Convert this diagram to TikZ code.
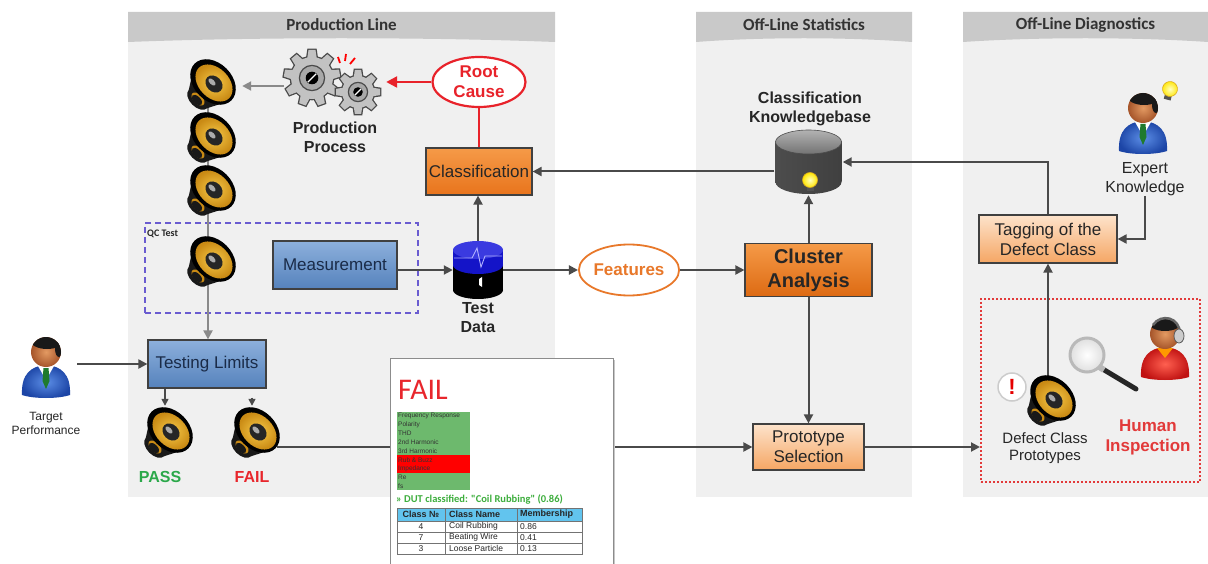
\documentclass[tikz,border=0pt]{standalone}
\usepackage{fontspec}
\setmainfont{Liberation Sans}
\newfontfamily\carlito{Carlito}
\usetikzlibrary{arrows.meta,shapes.geometric,calc}

\definecolor{connc}{HTML}{4A4A4A}
\definecolor{lightconn}{HTML}{8A8A8A}
\definecolor{panelbg}{HTML}{F0F0F0}
\definecolor{panelhd}{HTML}{C9C9C9}
\definecolor{blueT}{HTML}{8DB0DC}
\definecolor{blueB}{HTML}{5582BC}
\definecolor{blueTxt}{HTML}{1A2B48}
\definecolor{oraT}{HTML}{F59A48}
\definecolor{oraB}{HTML}{E8741C}
\definecolor{oraD}{HTML}{DD6A12}
\definecolor{lorT}{HTML}{FDE3CB}
\definecolor{lorB}{HTML}{F5A664}
\definecolor{boxedge}{HTML}{404040}
\definecolor{rcred}{HTML}{E8222A}
\definecolor{featora}{HTML}{E8782A}
\definecolor{passgreen}{HTML}{2BA84A}
\definecolor{failred}{HTML}{E8262C}
\definecolor{qcblue}{HTML}{6A5CD0}
\definecolor{inspred}{HTML}{E23A3A}
\definecolor{listgreen}{HTML}{6DB96D}
\definecolor{dutgreen}{HTML}{3DAE3D}
\definecolor{tblhead}{HTML}{62C4EE}
\definecolor{spkY}{HTML}{F7C948}
\definecolor{spkO}{HTML}{C98A14}
\definecolor{gearedge}{HTML}{4A4A4A}
\definecolor{gearface}{HTML}{C2C2C2}
\definecolor{gearin}{HTML}{A8A8A8}
\definecolor{headin}{HTML}{E39A62}
\definecolor{headout}{HTML}{A6552A}
\definecolor{suitin}{HTML}{5C8EE6}
\definecolor{suitout}{HTML}{1C45A6}
\definecolor{tiegreen}{HTML}{1F7A2E}
\definecolor{shirtin}{HTML}{FF6050}
\definecolor{shirtout}{HTML}{C01212}
\definecolor{tdblue}{HTML}{1414C8}
\definecolor{tdtop}{HTML}{3A3AE0}

\newcommand\fsz[2]{\fontsize{#1}{#2}\selectfont}

\tikzset{
  arrowline/.style={draw=connc, line width=2pt, -{Triangle[length=9pt,width=9pt]}},
  plainline/.style={draw=connc, line width=2pt},
  grayarrow/.style={draw=lightconn, line width=2pt, -{Triangle[length=9pt,width=9pt]}},
  redarrow/.style={draw=rcred, line width=2.4pt, -{Triangle[length=11pt,width=11pt]}},
  redline/.style={draw=rcred, line width=2.4pt},
  flowbox/.style={draw=boxedge, line width=1.2pt, align=center, inner sep=1pt},
  bluebox/.style={flowbox, top color=blueT, bottom color=blueB, text=blueTxt, font=\fsz{17}{20}},
  orabox/.style={flowbox, top color=oraT, bottom color=oraB, text=black!85, font=\fsz{17}{20}},
  clusterbox/.style={flowbox, top color=oraT, bottom color=oraD, text=black!85, font=\fsz{20}{24}\bfseries},
  lorbox/.style={flowbox, top color=lorT, bottom color=lorB, text=black!85, font=\fsz{17}{20}},
  iconspot/.style={inner sep=0pt, minimum width=50pt, minimum height=46pt},
  personspot/.style={inner sep=0pt, minimum width=50pt, minimum height=62pt},
  caption/.style={align=center, inner sep=0pt, text=black!85},
  boldcap/.style={caption, font=\fsz{16}{19}\bfseries},
  lanetitle/.style={inner sep=0pt, text=black!80, font=\carlito\bfseries\fsz{17}{17}},
  listtxt/.style={anchor=west, inner sep=0pt, text=black!80, font=\fsz{6.5}{6.5}},
  celltxt/.style={inner sep=0pt, text=black!85, font=\fsz{8.5}{8.5}},
  % loudspeaker: cone facing up-right, magnet behind at lower left
  pics/speaker/.style={code={
    \fill[black!90, rotate around={-45:(-10,13)}] (-10,13) ellipse [x radius=13, y radius=8];
    \fill[black!90] (23.4,14.4) -- (-0.8,22.2) -- (-19.2,3.8) -- (-13.4,-22.4) -- cycle;
    \fill[spkO, rotate around={-45:(-10,13)}] (-10,13) ellipse [x radius=8, y radius=4.5];
    \fill[black!90, rotate around={-45:(-11,14)}] (-11,14) ellipse [x radius=6.5, y radius=3.5];
    \fill[black, rotate around={-45:(5,-4)}] (5,-4) ellipse [x radius=26, y radius=19];
    \shade[inner color=spkY, outer color=spkO, rotate around={-45:(6,-3)}] (6,-3) ellipse [x radius=21.5, y radius=15];
    \fill[black!85, rotate around={-45:(6,-2)}] (6,-2) ellipse [x radius=9.5, y radius=7.5];
    \fill[gray!65, rotate around={-45:(4,-4)}] (4,-4) ellipse [x radius=4.5, y radius=2.4];
  }},
  % cog wheel: teeth, inner radius, outer radius, tooth half width
  pics/gear/.style n args={4}{code={
    \foreach \k in {1,...,#1} {
      \draw[gearedge, line width=2.6pt, rotate={\k*360/#1}]
        (-#4,{-(#2-3)}) -- (#4,{-(#2-3)}) -- ({0.7*#4},-#3) -- ({-0.7*#4},-#3) -- cycle;
    }
    \draw[gearedge, line width=2.6pt] (0,0) circle [radius=#2];
    \foreach \k in {1,...,#1} {
      \fill[gearface, rotate={\k*360/#1}]
        (-#4,{-(#2-3)}) -- (#4,{-(#2-3)}) -- ({0.7*#4},-#3) -- ({-0.7*#4},-#3) -- cycle;
    }
    \fill[gearface] (0,0) circle [radius=#2];
    \draw[gearedge, line width=1.2pt, fill=gearin] (0,0) circle [radius={0.6*#2}];
    \fill[black] (0,0) circle [radius={0.3*#2}];
    \draw[white, line width=1.2pt] ({-0.2*#2},{0.2*#2}) -- ({0.2*#2},{-0.2*#2});
  }},
  % man in a suit
  pics/suitman/.style={code={
    \shade[inner color=suitin, outer color=suitout]
      (-24,31) .. controls (-25,10) and (-15,2) .. (0,1) .. controls (15,2) and (25,10) .. (24,31)
      .. controls (12,35) and (-12,35) .. (-24,31) -- cycle;
    \fill[white] (-8,2) -- (0,16) -- (8,2) -- cycle;
    \fill[tiegreen] (-2.5,4) -- (2.5,4) -- (3.5,17) -- (0,25) -- (-3.5,17) -- cycle;
    \shade[inner color=headin, outer color=headout] (0,-12) circle [radius=15];
    \begin{scope}
      \clip (0,-12) circle [radius=15];
      \fill[black!90] (1,-24) ellipse [x radius=17, y radius=9];
      \fill[black!90] (13,-15) ellipse [x radius=4, y radius=8];
    \end{scope}
  }},
  % inspector with headset
  pics/inspector/.style={code={
    \shade[inner color=shirtin, outer color=shirtout]
      (-24,31) .. controls (-25,10) and (-15,2) .. (0,1) .. controls (15,2) and (25,10) .. (24,31)
      .. controls (12,35) and (-12,35) .. (-24,31) -- cycle;
    \fill[orange!80!yellow] (-8,2) -- (0,12) -- (8,2) -- cycle;
    \shade[inner color=headin, outer color=headout] (0,-12) circle [radius=15];
    \begin{scope}
      \clip (0,-12) circle [radius=15];
      \fill[black!90] (0,-24) ellipse [x radius=17, y radius=9];
    \end{scope}
    \draw[gray!80!black, line width=2.5pt] (-12,-21) .. controls (-4,-33) and (15,-29) .. (15,-12);
    \fill[gray!40, draw=gray!70!black, line width=0.8pt] (14,-10) ellipse [x radius=5, y radius=7];
  }},
  % light bulb
  pics/bulb/.style={code={
    \fill[gray!65!black] (-3.5,5) rectangle (3.5,11);
    \shade[inner color=yellow!25, outer color=yellow!80!orange] (0,0) circle [radius=7.5];
    \draw[yellow!50!orange!85!black, line width=0.6pt] (0,0) circle [radius=7.5];
  }},
  % knowledge base drum
  pics/kbdrum/.style={code={
    \shade[left color=black!70, middle color=black!42, right color=black!75] (-33,-20) rectangle (33,20);
    \shade[left color=black!70, middle color=black!42, right color=black!75] (0,20) ellipse [x radius=33, y radius=12];
    \shade[top color=black!30, bottom color=black!55] (0,-20) ellipse [x radius=33, y radius=12];
    \draw[black!70, line width=0.6pt] (0,-20) ellipse [x radius=33, y radius=12];
  }},
  % measurement data drum
  pics/datadrum/.style={code={
    \fill[black] (0,20) ellipse [x radius=25, y radius=9];
    \fill[black] (-25,-5) rectangle (25,20);
    \fill[tdblue] (0,-5) ellipse [x radius=25, y radius=9];
    \fill[tdblue] (-25,-20) rectangle (25,-5);
    \fill[tdtop] (0,-20) ellipse [x radius=25, y radius=9];
    \draw[blue!30!white, line width=0.9pt] (-24,-12) -- (-6,-12) -- (-1,-22) -- (3,-3) -- (7,-14) -- (24,-14);
    \fill[white] (1,9) -- (4,7) -- (4,17) -- (1,15) -- cycle;
  }},
}

\begin{document}
\begin{tikzpicture}[x=1pt,y=-1pt]
\useasboundingbox (0,0) rectangle (1208,564);
\fill[white] (0,0) rectangle (1208,564);

% ---------- swim lanes ----------
\foreach \xa/\xb/\lname/\ttl in {128/555/laneP/Production Line, 696/912/laneS/Off-Line Statistics, 963/1208/laneD/Off-Line Diagnostics} {
  \fill[panelbg] (\xa,12) rectangle (\xb,497);
  \fill[panelhd] (\xa,12) -- (\xb,12) -- (\xb,42)
     .. controls ({\xb-0.3*(\xb-\xa)},37) and ({\xa+0.3*(\xb-\xa)},37) .. (\xa,42) -- cycle;
  \node[lanetitle] (\lname) at ({(\xa+\xb)/2},25) {\ttl};
}

% ---------- nodes ----------
\node[draw=qcblue, line width=2.2pt, dash pattern=on 6pt off 4pt, minimum width=273pt, minimum height=90pt, inner sep=0pt] (qc) at (281.5,268) {};
\node[anchor=west, inner sep=0pt, text=black!85, font=\carlito\bfseries\fsz{10}{10}] (qclbl) at (147,234) {QC Test};

\node[iconspot] (spkA) at (208,86) {};
\node[iconspot] (spkB) at (208,139) {};
\node[iconspot] (spkC) at (208,192) {};
\node[iconspot] (spkQ) at (208,263) {};
\node[iconspot] (spkP) at (165,434) {};
\node[iconspot] (spkF) at (252,434) {};
\node[iconspot] (spkD) at (1048,402) {};

\node[inner sep=0pt, minimum width=102pt, minimum height=60pt] (gears) at (335,86) {};
\node[boldcap] (pplbl) at (335,137) {Production\\Process};

\node[ellipse, draw=rcred, line width=2.2pt, fill=white, minimum width=93pt, minimum height=50pt, inner sep=0pt,
      text=rcred, align=center, font=\fsz{17}{20}\bfseries] (root) at (479,82) {Root\\Cause};
\node[orabox, minimum width=106pt, minimum height=47pt] (classif) at (479,171.5) {Classification};
\node[bluebox, minimum width=124pt, minimum height=48pt] (meas) at (335,265) {Measurement};
\node[inner sep=0pt, minimum width=50pt, minimum height=58pt] (tdata) at (478,270) {};
\node[boldcap] (tdlbl) at (478,318) {Test\\Data};
\node[bluebox, minimum width=118pt, minimum height=48pt] (limits) at (207,364) {Testing Limits};

\node[personspot] (target) at (46,364) {};
\node[caption, font=\fsz{12}{14}] (targetlbl) at (46,423) {Target\\Performance};
\node[inner sep=0pt, text=passgreen, font=\fsz{16}{16}\bfseries] (passlbl) at (160,477) {PASS};
\node[inner sep=0pt, text=failred, font=\fsz{16}{16}\bfseries] (faillbl) at (252,477) {FAIL};

\node[ellipse, draw=featora, line width=1.8pt, fill=white, minimum width=92pt, minimum height=51pt, inner sep=0pt,
      text=featora, font=\fsz{17}{20}\bfseries] (feat) at (629,270) {Features};
\node[clusterbox, minimum width=127pt, minimum height=53pt] (cluster) at (808.5,270) {Cluster\\Analysis};
\node[inner sep=0pt, minimum width=68pt, minimum height=66pt] (kb) at (808.5,162) {};
\node[boldcap] (kblbl) at (810,109) {Classification\\Knowledgebase};
\node[lorbox, minimum width=111pt, minimum height=46pt] (proto) at (808.5,447) {Prototype\\Selection};

\node[lorbox, minimum width=138pt, minimum height=48pt] (tag) at (1048,239) {Tagging of the\\Defect Class};
\node[personspot] (expert) at (1143,120) {};
\node[caption, font=\fsz{16}{19}] (explbl) at (1145,179) {Expert\\Knowledge};
\node[draw=inspred, line width=2pt, dash pattern=on 2pt off 2pt, minimum width=219pt, minimum height=183pt, inner sep=0pt] (insp) at (1090.5,390.5) {};
\node[circle, draw=black!20, line width=1.5pt, fill=white, minimum size=28pt, inner sep=0pt,
      text=red!90!black, font=\fsz{22}{22}\bfseries] (excl) at (1012,387) {!};
\node[caption, font=\fsz{15}{17}] (deflbl) at (1045,448) {Defect Class\\Prototypes};
\node[personspot] (inspector) at (1165,346) {};
\node[caption, text=inspred, font=\fsz{17}{20}\bfseries] (insplbl) at (1148,437) {Human\\Inspection};

% ---------- connectors ----------
\draw[grayarrow] (spkA.center) -- (spkA.center |- limits.north);
\draw[grayarrow, shorten >=9pt] (gears.west) -- (gears.west -| spkA.east);
\draw[redarrow] (root.west) -- (root.west -| gears.east);
\draw[redline] (root.south) -- (classif.north);
\draw[arrowline] (tdata.north) -- (tdata.north |- classif.south);
\draw[arrowline] (meas.east |- tdata.west) -- (tdata.west);
\draw[arrowline] (tdata.east) -- (feat.west);
\draw[arrowline] (feat.east) -- (cluster.west);
\draw[arrowline] (cluster.north) -- (kb.south);
\draw[arrowline] (kb.west |- classif.east) -- (classif.east);
\draw[arrowline] (tag.north) |- (kb.east);
\draw[arrowline] (explbl.south) |- (tag.east);
\draw[arrowline] (spkD.north) -- (tag.south);
\draw[arrowline] (cluster.south) -- (proto.north);
\draw[arrowline] (proto.east) -- (proto.east -| insp.west);
\draw[arrowline] (spkF.east |- proto.west) -- (proto.west);
\draw[arrowline, shorten <=6pt] (target.east) -- (limits.west);
\draw[arrowline, line width=1.5pt, -{Triangle[length=7pt,width=7pt]}] (spkP.north |- limits.south) -- ([yshift=5pt]spkP.north);
\draw[arrowline, line width=1.5pt, shorten <=9pt, -{Triangle[length=7pt,width=7pt]}] (spkF.north |- limits.south) -- ([yshift=5pt]spkF.north);

% ---------- pictograms ----------
\foreach \s in {spkA,spkB,spkC,spkQ,spkP,spkF,spkD} \pic at (\s) {speaker};
\pic at ($(gears.center)+(-23,-8)$) {gear={9}{21}{28}{5}};
\pic at ($(gears.center)+(23,6)$) {gear={8}{16}{22}{4.5}};
\draw[red, line width=1.8pt] (338,57) -- (340,63);
\draw[red, line width=1.8pt] (346,54) -- (345,61);
\draw[red, line width=1.8pt] (355,58) -- (350,64);
\pic at (tdata) {datadrum};
\pic at (kb) {kbdrum};
\pic at ($(kb.center)+(1.5,18)$) {bulb};
\pic at (target) {suitman};
\pic at (expert) {suitman};
\pic[rotate=-15] at (1170,89) {bulb};
\pic at (inspector) {inspector};
% magnifying glass
\draw[black!85, line width=5pt, line cap=round] (1101,368) -- (1136,389);
\draw[gray!55, line width=6pt] (1098,366) -- (1104,370);
\shade[inner color=white, outer color=gray!25] (1087,355) circle [radius=17];
\draw[gray!55, line width=3pt] (1087,355) circle [radius=17];

% ---------- failure report ----------
\fill[black!22] (391.5,359.5) rectangle (615,570);
\node[draw=black!45, line width=0.8pt, fill=white, minimum width=223pt, minimum height=212pt, inner sep=0pt] (report) at (501.5,464) {};
\node[anchor=west, inner sep=0pt, text=failred, font=\carlito\fsz{30}{30}] (reporthead) at (398,390) {FAIL};
\fill[listgreen] (397,412) rectangle (470,490);
\fill[red] (397,455.3) rectangle (470,472.7);
\foreach \t [count=\i] in {Frequency Response, Polarity, THD, 2nd Harmonic, 3rd Harmonic, Rub \& Buzz, Impedance, Re, fs}
  \node[listtxt] (row\i) at (398,{412+(\i-0.5)*8.67}) {\t};
\node[anchor=west, inner sep=0pt, text=dutgreen, font=\carlito\bfseries\fsz{10.5}{10.5}] (dut) at (396,499) {» DUT classified: "Coil Rubbing" (0.86)};
\fill[tblhead] (397,508) rectangle (582,521);
\draw[black!55, line width=0.7pt] (397,508) rectangle (582,554);
\foreach \yy in {521,532,543} \draw[black!55, line width=0.7pt] (397,\yy) -- (582,\yy);
\foreach \xx in {445,517} \draw[black!55, line width=0.7pt] (\xx,508) -- (\xx,554);
\node[celltxt, font=\fsz{9}{9}\bfseries] (th1) at (421,514.5) {Class №};
\node[celltxt, anchor=west, font=\fsz{9}{9}\bfseries] (th2) at (449,514.5) {Class Name};
\node[celltxt, anchor=west, font=\fsz{9}{9}\bfseries] (th3) at (520,514.5) {Membership};
\foreach \n/\cname/\mem [count=\r] in {4/Coil Rubbing/0.86, 7/Beating Wire/0.41, 3/Loose Particle/0.13} {
  \node[celltxt] (ca\r) at (421,{521+(\r-0.5)*11}) {\n};
  \node[celltxt, anchor=west] (cb\r) at (449,{521+(\r-0.5)*11}) {\cname};
  \node[celltxt, anchor=west] (cc\r) at (520,{521+(\r-0.5)*11}) {\mem};
}
\end{tikzpicture}
\end{document}
